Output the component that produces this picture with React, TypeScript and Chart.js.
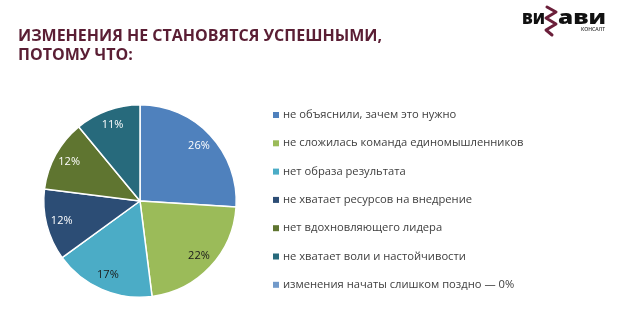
import React, { useEffect, useRef } from "react";
import { Chart, registerables } from "chart.js";

Chart.register(...registerables);

const categories = [
  "не объяснили, зачем это нужно",
  "не сложилась команда единомышленников",
  "нет образа результата",
  "не хватает ресурсов на внедрение",
  "нет вдохновляющего лидера",
  "не хватает воли и настойчивости",
  "изменения начаты слишком поздно — 0%",
];
const values = [26, 22, 17, 12, 12, 11, 0];
const colors = ["#4F81BD", "#9BBB59", "#4BACC6", "#2C4D75", "#5F7530", "#276A7C", "#729ACA"];
const labelColors = ["#ffffff", "#1a1a1a", "#1a1a1a", "#ffffff", "#ffffff", "#ffffff", "#ffffff"];

const FONT = "'Open Sans', 'Noto Sans', sans-serif";

function fitText(ctx: CanvasRenderingContext2D, text: string, x0: number, x1: number, y: number) {
  const w = ctx.measureText(text).width;
  ctx.save();
  ctx.translate(x0, y);
  ctx.scale((x1 - x0) / w, 1);
  ctx.fillText(text, 0, 0);
  ctx.restore();
}

export default function App() {
  const ref = useRef<HTMLCanvasElement>(null);
  useEffect(() => {
    const canvas = ref.current!;
    const labelPlugin = {
      id: "pctLabels",
      afterDatasetsDraw(chart: any) {
        const ctx = chart.ctx;
        const meta = chart.getDatasetMeta(0);
        ctx.save();
        ctx.font = `11px ${FONT}`;
        ctx.textAlign = "center";
        ctx.textBaseline = "middle";
        meta.data.forEach((arc: any, i: number) => {
          const v = values[i];
          if (!v) return;
          const p = arc.getProps(["x", "y", "startAngle", "endAngle", "outerRadius"], true);
          const mid = (p.startAngle + p.endAngle) / 2;
          const r = p.outerRadius * 0.84;
          ctx.fillStyle = labelColors[i];
          ctx.fillText(v + "%", p.x + Math.cos(mid) * r, p.y + Math.sin(mid) * r);
        });
        ctx.restore();
      },
    };
    const legendPlugin = {
      id: "sideLegend",
      afterDraw(chart: any) {
        const ctx = chart.ctx;
        ctx.save();
        ctx.font = `11.2px ${FONT}`;
        ctx.textBaseline = "middle";
        ctx.textAlign = "left";
        const x0 = 273;
        const y0 = 115;
        const step = 28.3;
        categories.forEach((c, i) => {
          const y = y0 + i * step;
          ctx.fillStyle = colors[i];
          ctx.fillRect(x0, y - 3, 6, 6);
          ctx.fillStyle = "#404040";
          ctx.fillText(c, x0 + 10, y);
        });
        ctx.restore();
      },
    };
    const logoPlugin = {
      id: "logo",
      afterDraw(chart: any) {
        const ctx: CanvasRenderingContext2D = chart.ctx;
        ctx.save();
        ctx.textBaseline = "alphabetic";
        ctx.textAlign = "left";
        ctx.fillStyle = "#111111";
        ctx.font = `800 19px ${FONT}`;
        fitText(ctx, "ви", 522, 545, 24);
        fitText(ctx, "ави", 558, 606, 24);
        ctx.strokeStyle = "#6B1F3A";
        ctx.lineWidth = 3;
        ctx.lineJoin = "round";
        ctx.lineCap = "round";
        ctx.beginPath();
        const pts = [[547, 7], [556, 12], [546, 18], [556, 24], [546, 30], [552, 35]];
        pts.forEach(([x, y], i) => (i ? ctx.lineTo(x, y) : ctx.moveTo(x, y)));
        ctx.stroke();
        ctx.fillStyle = "#333333";
        ctx.font = `600 5px ${FONT}`;
        fitText(ctx, "КОНСАЛТ", 581, 605, 31);
        ctx.restore();
      },
    };
    const chart = new Chart(canvas, {
      type: "pie",
      data: {
        labels: categories,
        datasets: [
          {
            data: values,
            backgroundColor: colors,
            borderColor: "#ffffff",
            borderWidth: 1.5,
            hoverOffset: 0,
          },
        ],
      },
      options: {
        responsive: false,
        animation: false,
        layout: { padding: { left: 43, right: 383, top: 104, bottom: 18 } },
        plugins: {
          legend: { display: false },
          tooltip: { enabled: false },
        },
      },
      plugins: [labelPlugin, legendPlugin, logoPlugin],
    });
    return () => chart.destroy();
  }, []);

  return (
    <div style={{ position: "fixed", left: 0, top: 0, width: 620, height: 316, background: "#fff", overflow: "hidden", fontFamily: FONT }}>
      <canvas ref={ref} width={620} height={316} style={{ position: "absolute", left: 0, top: 0, width: 620, height: 316 }} />
      <div style={{ position: "absolute", left: 18, top: 26, fontSize: 16, fontWeight: 700, color: "#5A1E34", lineHeight: "18.5px", letterSpacing: 0 }}>
        ИЗМЕНЕНИЯ НЕ СТАНОВЯТСЯ УСПЕШНЫМИ,
        <br />
        ПОТОМУ ЧТО:
      </div>
    </div>
  );
}
